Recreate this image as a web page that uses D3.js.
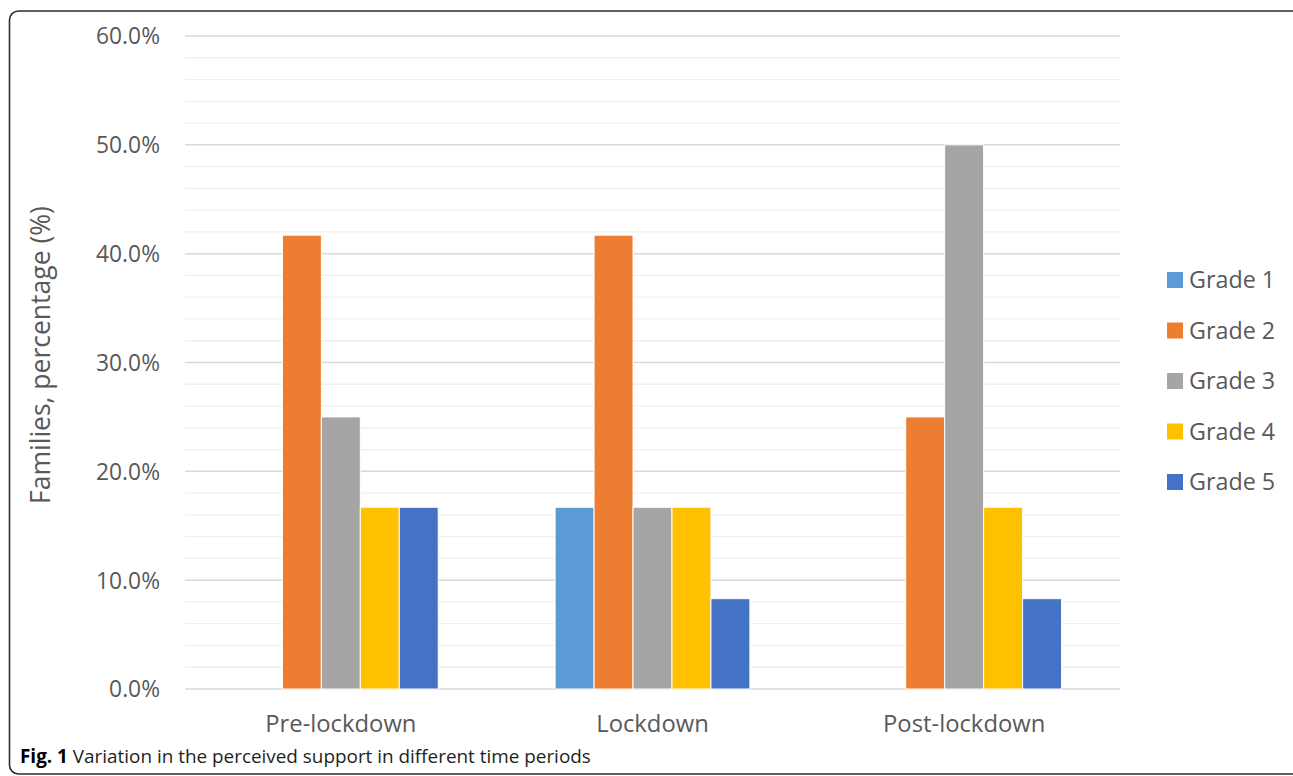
<!DOCTYPE html>
<html>
<head>
<meta charset="utf-8">
<script src="https://cdn.jsdelivr.net/npm/d3@7"></script>
<style>
  html, body { margin: 0; padding: 0; background: #fff; }
  svg { display: block; }
</style>
</head>
<body>
<svg id="chart" width="1293" height="776"></svg>
<script>
const categories = ["Pre-lockdown", "Lockdown", "Post-lockdown"];
const seriesNames = ["Grade 1", "Grade 2", "Grade 3", "Grade 4", "Grade 5"];
const grade1 = [0, 16.7, 0];
const grade2 = [41.7, 41.7, 25.0];
const grade3 = [25.0, 16.7, 50.0];
const grade4 = [16.7, 16.7, 16.7];
const grade5 = [16.7, 8.3, 8.3];
const seriesColors = ["#5B9BD5", "#ED7D31", "#A5A5A5", "#FFC000", "#4472C4"];
const majorTicks = [0, 10, 20, 30, 40, 50, 60];
const minorTicks = [2, 4, 6, 8, 12, 14, 16, 18, 22, 24, 26, 28, 32, 34, 36, 38, 42, 44, 46, 48, 52, 54, 56, 58];
const yTitle = "Families, percentage (%)";
const captionBold = "Fig. 1";
const captionText = " Variation in the perceived support in different time periods";

const seriesValues = [grade1, grade2, grade3, grade4, grade5];

const svg = d3.select("#chart");
const font = "'Open Sans', sans-serif";
const grey = "#595959";

// figure border
svg.append("rect")
  .attr("x", 9.5).attr("y", 11).attr("width", 1292).attr("height", 763)
  .attr("rx", 9).attr("ry", 9)
  .attr("fill", "none").attr("stroke", "#2b2b2b").attr("stroke-width", 1.6);

const plot = { left: 185, right: 1120, top: 36, bottom: 689 };

const y = d3.scaleLinear().domain([0, 60]).range([plot.bottom, plot.top]);
const x0 = d3.scaleBand().domain(categories).range([plot.left, plot.right]).paddingInner(0).paddingOuter(0);
const groupW = x0.bandwidth() / 1.6;
const x1 = d3.scaleBand().domain(seriesNames).range([0, groupW]).padding(0);

// minor gridlines
svg.append("g").selectAll("line").data(minorTicks).join("line")
  .attr("x1", plot.left).attr("x2", plot.right)
  .attr("y1", d => y(d)).attr("y2", d => y(d))
  .attr("stroke", "#efefef").attr("stroke-width", 1.3);

// major gridlines
svg.append("g").selectAll("line").data(majorTicks).join("line")
  .attr("x1", plot.left).attr("x2", plot.right)
  .attr("y1", d => y(d)).attr("y2", d => y(d))
  .attr("stroke", "#d9d9d9").attr("stroke-width", 1.5);

// y axis labels via d3 axis
const yAxis = d3.axisLeft(y).tickValues(majorTicks).tickSize(0).tickPadding(0)
  .tickFormat(d => d.toFixed(1) + "%");
const yg = svg.append("g").attr("transform", `translate(160,0)`).call(yAxis);
yg.select(".domain").remove();
yg.selectAll("text").attr("font-family", font).attr("font-size", 22.8).attr("fill", grey).attr("dy", "0.35em");

// bars
const groups = svg.append("g").selectAll("g").data(categories).join("g")
  .attr("transform", d => `translate(${x0(d) + (x0.bandwidth() - groupW) / 2},0)`);
groups.selectAll("rect")
  .data((c, i) => seriesNames.map((s, j) => ({ s, j, v: seriesValues[j][i] })))
  .join("rect")
  .filter(d => d.v > 0)
  .attr("x", d => x1(d.s))
  .attr("y", d => y(d.v))
  .attr("width", x1.bandwidth())
  .attr("height", d => y(0) - y(d.v))
  .attr("fill", d => seriesColors[d.j])
  .attr("stroke", "#fff").attr("stroke-width", 1);

// x axis labels
const xAxis = d3.axisBottom(x0).tickSize(0).tickPadding(0);
const xg = svg.append("g").attr("transform", `translate(0,${plot.bottom})`).call(xAxis);
xg.select(".domain").remove();
xg.selectAll("text").attr("font-family", font).attr("font-size", 23.8).attr("fill", grey)
  .attr("dy", null).attr("y", 43);

// y title
svg.append("text")
  .attr("transform", `translate(50,355) rotate(-90)`)
  .attr("text-anchor", "middle")
  .attr("font-family", font).attr("font-size", 26.5).attr("fill", grey)
  .text(yTitle);

// legend
const lg = svg.append("g").selectAll("g").data(seriesNames).join("g")
  .attr("transform", (d, i) => `translate(1167,${280 + i * 50.5})`);
lg.append("rect").attr("x", 0).attr("y", -8).attr("width", 16).attr("height", 16)
  .attr("fill", (d, i) => seriesColors[i]);
lg.append("text").attr("x", 22).attr("dy", "0.35em")
  .attr("font-family", font).attr("font-size", 23.3).attr("fill", grey)
  .text(d => d);

// caption
const cap = svg.append("text").attr("x", 20).attr("y", 763)
  .attr("font-family", font).attr("font-size", 18.9).attr("fill", "#231f20");
cap.append("tspan").attr("font-weight", "bold").attr("fill", "#000").text(captionBold);
cap.append("tspan").text(captionText);
</script>
</body>
</html>
